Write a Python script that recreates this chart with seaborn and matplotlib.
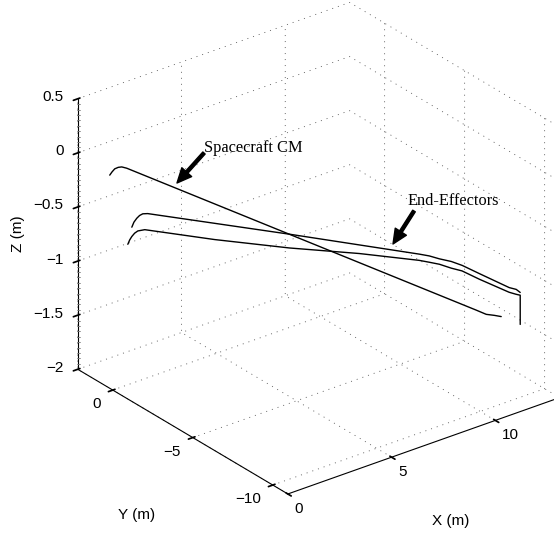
import numpy as np
import matplotlib
matplotlib.use("Agg")
import matplotlib.pyplot as plt
import seaborn as sns
from mpl_toolkits.mplot3d import proj3d

# ---------------- data (metres) ----------------
sc_x = [0.00, 0.06, 0.14, 0.24, 0.34, 0.48, 10.30, 10.58, 10.80, 11.00]
sc_y = [0.19, 0.13, 0.06, -0.03, -0.12, -0.25, -9.36, -9.62, -9.84, -10.01]
sc_z = [-0.03, 0.00, 0.03, 0.045, 0.05, 0.04, -1.14, -1.175, -1.18, -1.19]

ee1_x = [0.00, 0.07, 0.16, 0.25, 0.35, 0.51, 5.06, 9.23, 9.55, 9.87, 10.26, 10.61, 11.15, 12.11, 12.34, 12.47]
ee1_y = [-1.19, -1.23, -1.29, -1.35, -1.42, -1.52, -4.48, -7.19, -7.40, -7.61, -7.85, -8.08, -8.44, -9.07, -9.21, -9.29]
ee1_z = [-0.39, -0.345, -0.31, -0.285, -0.27, -0.27, -0.51, -0.74, -0.76, -0.79, -0.82, -0.86, -0.94, -1.08, -1.10, -1.13]

ee2_x = [0.00, 0.06, 0.13, 0.22, 0.32, 0.54, 2.75, 5.13, 7.34, 9.24, 9.56, 9.87, 10.25, 10.60, 11.14, 12.09, 12.31, 12.44, 12.44, 12.44]
ee2_y = [-0.94, -0.98, -1.02, -1.08, -1.15, -1.30, -2.80, -4.39, -5.89, -7.17, -7.39, -7.61, -7.86, -8.08, -8.46, -9.09, -9.25, -9.33, -9.33, -9.33]
ee2_z = [-0.57, -0.53, -0.50, -0.47, -0.45, -0.44, -0.55, -0.65, -0.72, -0.80, -0.82, -0.84, -0.88, -0.91, -0.99, -1.12, -1.14, -1.15, -1.20, -1.42]

x_lim = (0.0, 13.1)
y_lim = (-10.94, 2.19)
z_lim = (-2.0, 0.5)
x_ticks = [0, 5, 10]
x_ticklabels = ["0", "5", "10"]
y_ticks = [-10, -5, 0]
y_ticklabels = ["\u221210", "\u22125", "0"]
z_ticks = [-2, -1.5, -1, -0.5, 0, 0.5]
z_ticklabels = ["\u22122", "\u22121.5", "\u22121", "\u22120.5", "0", "0.5"]
z_minor_step = 0.05

# ---------------- style ----------------
sns.set_theme(style="white")
plt.rcParams["font.family"] = ["Liberation Sans", "DejaVu Sans"]
for k in ["text.color", "axes.labelcolor", "xtick.color", "ytick.color"]:
    plt.rcParams[k] = "black"

W_PX, H_PX = 554, 533
fig = plt.figure(figsize=(W_PX / 100, H_PX / 100), dpi=100)
fig.patch.set_facecolor("white")
ax = fig.add_axes([0.1, 0.1, 0.8, 0.8], projection="3d")
ax.set_proj_type("ortho")
ax.view_init(elev=27.3, azim=-127.7)
ax.set_box_aspect((1, 1, 0.886))

for (xs, ys, zs) in [(sc_x, sc_y, sc_z), (ee1_x, ee1_y, ee1_z), (ee2_x, ee2_y, ee2_z)]:
    ax.plot(xs, ys, zs, color="black", lw=1.0)

ax.set_xlim(*x_lim)
ax.set_ylim(*y_lim)
ax.set_zlim(*z_lim)
ax.set_xticks(x_ticks)
ax.set_yticks(y_ticks)
ax.set_zticks(z_ticks)
# tick labels are drawn below as text next to the projected tick positions
ax.set_xticklabels([""] * len(x_ticks))
ax.set_yticklabels([""] * len(y_ticks))
ax.set_zticklabels([""] * len(z_ticks))

for axis in (ax.xaxis, ax.yaxis, ax.zaxis):
    axis.set_pane_color((1, 1, 1, 0))
    axis._axinfo["grid"].update(color="#555555", linewidth=0.6,
                                linestyle=(0, (1.2, 6)))
    axis._axinfo["axisline"].update(color="black", linewidth=0.8)
    axis.line.set_color("black")
    axis.line.set_linewidth(0.8)
ax.grid(True)

# ---------------- fit the box to the reference layout ----------------
targets = [  # (data point) -> (image px)
    ((0, y_lim[1], 0.5), (77, 98)),
    ((0, y_lim[1], -2), (77, 368)),
    ((0, y_lim[0], -2), (288, 493)),
    ((x_lim[1], y_lim[1], 0.5), (350, 5)),
    ((10, y_lim[0], -2), (497, 421)),
    ((0, 0, -2), (112, 390)),
]
fig.canvas.draw()
bb = ax.bbox
ox0, oy0, w0 = bb.x0, bb.y0, bb.width
A, b = [], []
for (p, t) in targets:
    xs2, ys2, _ = proj3d.proj_transform(p[0], p[1], p[2], ax.M)
    px, py = ax.transData.transform((xs2, ys2))
    fx, fy = (px - ox0) / w0, (py - oy0) / w0
    A.append([1, 0, fx]); b.append(t[0])
    A.append([0, 1, fy]); b.append(H_PX - t[1])
sol, *_ = np.linalg.lstsq(np.array(A), np.array(b), rcond=None)
ox, oy, wn = sol
ax.set_position([ox / W_PX, oy / H_PX, wn / W_PX, wn / H_PX])
fig.canvas.draw()


def img_px(x, y, z):
    xs2, ys2, _ = proj3d.proj_transform(x, y, z, ax.M)
    px, py = ax.transData.transform((xs2, ys2))
    return px, H_PX - py


# ---------------- overlay in image-pixel coordinates ----------------
ov = fig.add_axes([0, 0, 1, 1])
ov.set_xlim(0, W_PX)
ov.set_ylim(H_PX, 0)
ov.set_axis_off()
ov.patch.set_alpha(0)

tick_fs = 11
for v, lab in zip(x_ticks, x_ticklabels):
    px, py = img_px(v, y_lim[0], z_lim[0])
    ov.text(px + 7, py + 15, lab, fontsize=tick_fs, ha="left", va="center")
for v, lab in zip(y_ticks, y_ticklabels):
    px, py = img_px(x_lim[0], v, z_lim[0])
    ov.text(px - 12, py + 14, lab, fontsize=tick_fs, ha="right", va="center")
for v, lab in zip(z_ticks, z_ticklabels):
    px, py = img_px(x_lim[0], y_lim[1], v)
    ov.text(px - 14, py - 1.5, lab, fontsize=tick_fs, ha="right", va="center")

# minor ticks along the z axis
zmin_vals = np.arange(z_lim[0], z_lim[1] + 1e-9, z_minor_step)
for v in zmin_vals:
    if np.min(np.abs(np.array(z_ticks) - v)) < 1e-6:
        continue
    px, py = img_px(x_lim[0], y_lim[1], v)
    ov.plot([px - 0.5, px + 2.5], [py, py], color="#777777", lw=0.6)

ov.text(451, 521, "X (m)", fontsize=11, ha="center", va="center")
ov.text(137, 515, "Y (m)", fontsize=11, ha="center", va="center")
ov.text(18, 234, "Z (m)", fontsize=11, ha="center", va="center", rotation=90)

serif = ["Liberation Serif", "DejaVu Serif"]
arrow = dict(facecolor="black", edgecolor="black", width=2.2, headwidth=9.5,
             headlength=10.5, shrink=0)
ov.annotate("", xy=(177, 183), xytext=(204, 153), arrowprops=arrow)
ov.text(204, 148, "Spacecraft CM", family=serif, fontsize=11.8, ha="left", va="center")
ov.annotate("", xy=(393, 244), xytext=(414, 211), arrowprops=arrow)
ov.text(408, 201, "End-Effectors", family=serif, fontsize=11.8, ha="left", va="center")

fig.savefig("out.png", dpi=100, facecolor="white")
